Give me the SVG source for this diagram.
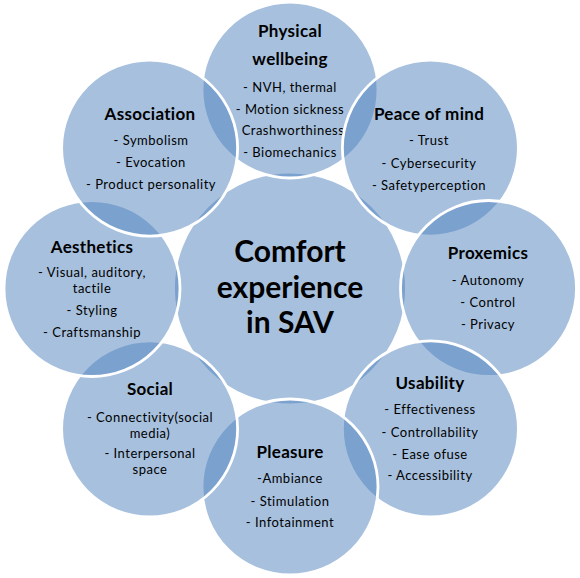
<svg xmlns="http://www.w3.org/2000/svg" width="580" height="578" viewBox="0 0 580 578">
<style>
.c{fill:#4f81bd;fill-opacity:0.5;stroke:#fff;stroke-width:2.8}
text{font-family:Lato,"Liberation Sans",sans-serif;fill:#000;text-anchor:middle}
.t{font-size:17px;font-weight:bold;letter-spacing:0.3px}
.i{font-size:13px;letter-spacing:0.5px}
.m{font-size:30px;font-weight:bold}
</style>
<rect width="580" height="578" fill="#fff"/>
<g id="center">
<circle class="c" cx="290" cy="288.5" r="116.5"/>
<text class="m" x="290" y="262">Comfort</text>
<text class="m" x="290" y="297.5">experience</text>
<text class="m" x="290" y="333">in SAV</text>
</g>
<g id="physical">
<circle class="c" cx="290" cy="90" r="88"/>
<text class="t" x="290" y="37">Physical</text>
<text class="t" x="290" y="65">wellbeing</text>
<text class="i" x="290" y="92">- NVH, thermal</text>
<text class="i" x="290" y="113.5">- Motion sickness</text>
<text class="i" x="293" y="135">Crashworthiness</text>
<text class="i" x="290" y="157">- Biomechanics</text>
</g>
<g id="peace">
<circle class="c" cx="430.4" cy="148.1" r="88"/>
<text class="t" x="429" y="119.5">Peace of mind</text>
<text class="i" x="429" y="145">- Trust</text>
<text class="i" x="429" y="167.5">- Cybersecurity</text>
<text class="i" x="429" y="190">- Safetyperception</text>
</g>
<g id="proxemics">
<circle class="c" cx="488.5" cy="288.5" r="88"/>
<text class="t" x="488" y="259">Proxemics</text>
<text class="i" x="488" y="285">- Autonomy</text>
<text class="i" x="488" y="307">- Control</text>
<text class="i" x="488" y="329">- Privacy</text>
</g>
<g id="usability">
<circle class="c" cx="430.4" cy="428.9" r="88"/>
<text class="t" x="430" y="389">Usability</text>
<text class="i" x="430" y="414">- Effectiveness</text>
<text class="i" x="430" y="437">- Controllability</text>
<text class="i" x="430" y="458.5">- Ease ofuse</text>
<text class="i" x="430" y="480">- Accessibility</text>
</g>
<g id="pleasure">
<circle class="c" cx="290" cy="487" r="88"/>
<text class="t" x="290" y="458">Pleasure</text>
<text class="i" x="290" y="483">-Ambiance</text>
<text class="i" x="290" y="506">- Stimulation</text>
<text class="i" x="290" y="527">- Infotainment</text>
</g>
<g id="social">
<circle class="c" cx="149.6" cy="428.9" r="88"/>
<text class="t" x="150" y="395">Social</text>
<text class="i" x="150" y="421.5">- Connectivity(social</text>
<text class="i" x="150" y="438">media)</text>
<text class="i" x="150" y="458">- Interpersonal</text>
<text class="i" x="150" y="474">space</text>
</g>
<g id="aesthetics">
<circle class="c" cx="92" cy="288.5" r="88"/>
<text class="t" x="92" y="253">Aesthetics</text>
<text class="i" x="92" y="277">- Visual, auditory,</text>
<text class="i" x="92" y="293">tactile</text>
<text class="i" x="92" y="315">- Styling</text>
<text class="i" x="92" y="337">- Craftsmanship</text>
</g>
<g id="association">
<circle class="c" cx="149.6" cy="148.1" r="88"/>
<text class="t" x="150" y="120">Association</text>
<text class="i" x="151" y="145">- Symbolism</text>
<text class="i" x="151" y="167">- Evocation</text>
<text class="i" x="151" y="189">- Product personality</text>
</g>
<g id="connectors"/>
</svg>
